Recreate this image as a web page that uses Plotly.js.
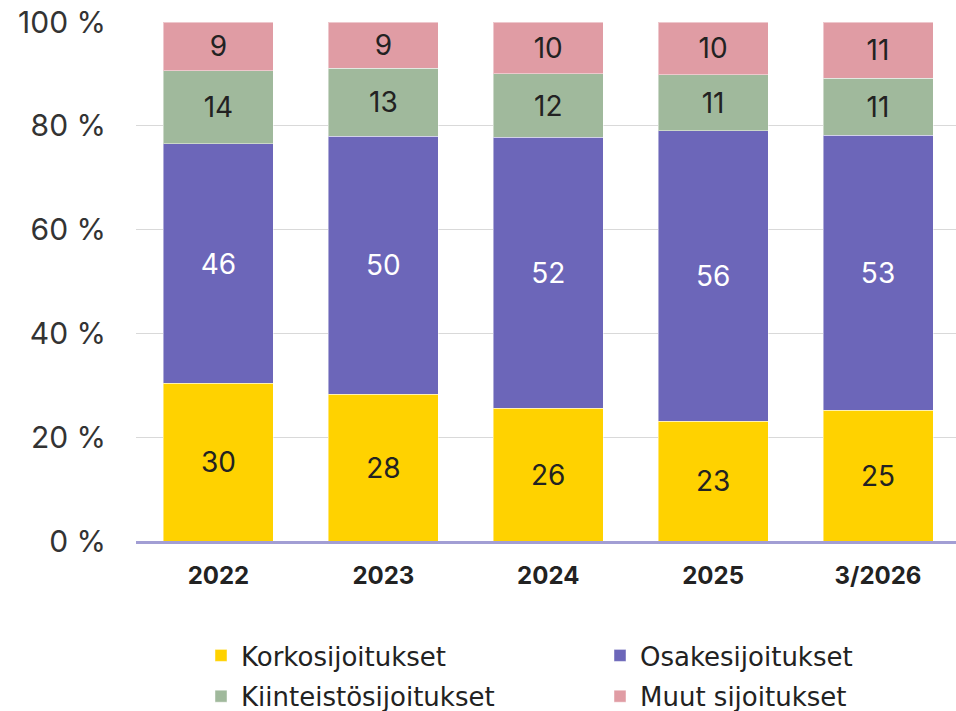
<!DOCTYPE html>
<html>
<head>
<meta charset="utf-8">
<script src="https://cdn.plot.ly/plotly-3.0.1.min.js"></script>
<style>
html,body{margin:0;padding:0;background:#fff;}
#chart{width:956px;height:711px;}
</style>
</head>
<body>
<div id="chart"></div>
<script>
var categories = ['2022', '2023', '2024', '2025', '3/2026'];
var korko = [30.4, 28.3, 25.6, 23.1, 25.2];
var osake = [46.1, 49.7, 52.2, 55.9, 53.0];
var kiint = [14.1, 13.1, 12.2, 10.8, 11.0];
var muut = [9.4, 8.9, 10.0, 10.2, 10.8];
var seriesNames = ['Korkosijoitukset', 'Osakesijoitukset', 'Kiinteistösijoitukset', 'Muut sijoitukset'];
var yTicks = [0, 20, 40, 60, 80, 100];
var yTickLabels = ['0 %', '20 %', '40 %', '60 %', '80 %', '100 %'];

var FONT = 'Inter, "Open Sans", sans-serif';
var LEGEND_FONT = '"DejaVu Sans", Inter, sans-serif';
var colors = ['#ffd200', '#6c66b9', '#a0b99c', '#e09ca4'];
var textColors = ['#222222', '#ffffff', '#222222', '#222222'];
var legendIds = ['legend', 'legend2', 'legend', 'legend2'];
var data = [korko, osake, kiint, muut];

var traces = data.map(function (vals, i) {
  return {
    type: 'bar',
    name: seriesNames[i],
    legend: legendIds[i],
    legendgroup: 'g' + i,
    x: categories,
    y: vals,
    marker: {color: colors[i], line: {color: 'rgba(255,255,255,0.45)', width: 1}},
    texttemplate: '%{y:.0f}',
    textposition: 'inside',
    insidetextanchor: 'middle',
    textangle: 0,
    textfont: {family: FONT, size: 28, color: textColors[i]},
    hoverinfo: 'skip'
  };
});

function legendSpec(xpx) {
  return {
    orientation: 'v',
    traceorder: 'grouped',
    xref: 'paper',
    yref: 'container',
    x: (xpx - 136) / 820,
    xanchor: 'left',
    y: 1 - 632 / 711,
    yanchor: 'top',
    tracegroupgap: 4,
    bgcolor: 'rgba(0,0,0,0)',
    font: {family: LEGEND_FONT, size: 26, color: '#222222'}
  };
}

var layout = {
  width: 956,
  height: 711,
  margin: {l: 136, r: 0, t: 22, b: 170},
  paper_bgcolor: '#ffffff',
  plot_bgcolor: '#ffffff',
  barmode: 'stack',
  bargap: 0.333,
  font: {family: FONT, color: '#333333'},
  xaxis: {
    type: 'category',
    range: [-0.5, 4.473],
    showline: true,
    linecolor: '#a29ed4',
    linewidth: 3,
    ticks: '',
    showgrid: false,
    tickfont: {family: FONT, size: 24, color: '#222222', weight: 'bold'},
    ticklabelstandoff: 11
  },
  yaxis: {
    range: [0, 100],
    tickmode: 'array',
    tickvals: yTicks,
    ticktext: yTickLabels,
    showgrid: true,
    gridcolor: '#d9d9d9',
    gridwidth: 1,
    zeroline: false,
    showline: false,
    ticks: '',
    tickfont: {family: FONT, size: 30, color: '#333333'},
    ticklabelstandoff: 29
  },
  showlegend: true,
  legend: legendSpec(201),
  legend2: legendSpec(600)
};

Plotly.newPlot('chart', traces, layout, {displayModeBar: false, staticPlot: true});
</script>
</body>
</html>
